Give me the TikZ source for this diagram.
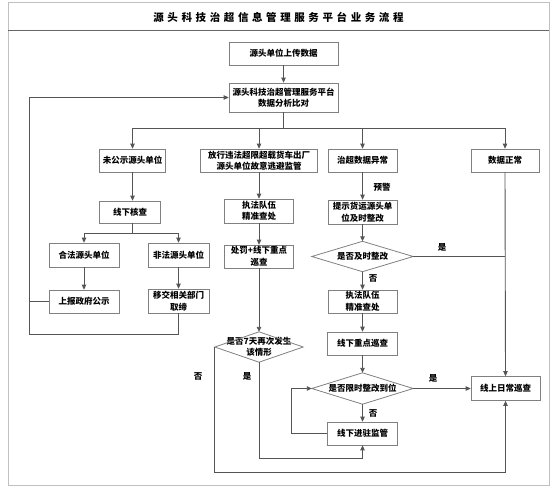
\documentclass[tikz,border=0pt]{standalone}
\usepackage{fontspec}
\setmainfont{Noto Sans CJK SC}
\usetikzlibrary{arrows.meta}
\definecolor{boxgray}{HTML}{808080}
\definecolor{linegray}{HTML}{555555}
\definecolor{framegray}{HTML}{C0C0C0}
\definecolor{sepgray}{HTML}{666666}
\newcommand{\tsp}{\hspace{3.6pt}}
\begin{document}
\begin{tikzpicture}[x=1pt,y=-1pt,
  box/.style={draw=boxgray, line width=0.8pt, inner sep=0pt, align=center,
    font=\fontsize{8.5pt}{11.5pt}\selectfont\bfseries},
  dia/.style={inner sep=0pt, align=center,
    font=\fontsize{8.5pt}{11.5pt}\selectfont\bfseries},
  dline/.style={draw=boxgray, line width=0.8pt},
  ln/.style={draw=linegray, line width=0.9pt},
  arr/.style={-{Triangle[length=5pt,width=4.6pt]}},
  lbl/.style={inner sep=0pt, font=\fontsize{8.5pt}{10pt}\selectfont\bfseries},
]
\useasboundingbox (0,0) rectangle (556,492);
% frame
\draw[framegray, line width=1pt] (8,3) rectangle (549,485);
\draw[sepgray, line width=0.9pt] (8,30) -- (549,30);
\node[inner sep=0pt, font=\fontsize{10.5pt}{12pt}\selectfont\bfseries] (title) at (278.5,17)
 {源\tsp 头\tsp 科\tsp 技\tsp 治\tsp 超\tsp 信\tsp 息\tsp 管\tsp 理\tsp 服\tsp 务\tsp 平\tsp 台\tsp 业\tsp 务\tsp 流\tsp 程};

% top
\node[box, minimum width=109pt, minimum height=23pt] (up) at (283.5,53.5) {源头单位上传数据};
\node[box, minimum width=109pt, minimum height=29pt] (plat) at (283.5,97.5) {源头科技治超管理服务平台\\数据分析比对};

% level 1
\node[box, minimum width=66pt, minimum height=23pt] (n1) at (132.5,160.5) {未公示源头单位};
\node[box, minimum width=117pt, minimum height=23pt] (n2) at (259,160.5) {放行违法超限超载货车出厂\\源头单位故意逃避监管};
\node[box, minimum width=69pt, minimum height=23pt] (n3) at (362.5,160.5) {治超数据异常};
\node[box, minimum width=68pt, minimum height=23pt] (n4) at (505,160.5) {数据正常};

% left column
\node[box, minimum width=61pt, minimum height=22pt] (hc) at (130,212) {线下核查};
\node[box, minimum width=70pt, minimum height=24pt] (hf) at (84,255) {合法源头单位};
\node[box, minimum width=61pt, minimum height=24pt] (ff) at (178.5,255) {非法源头单位};
\node[box, minimum width=70pt, minimum height=23pt] (gs) at (84,301.5) {上报政府公示};
\node[box, minimum width=61pt, minimum height=24pt] (yj) at (178.5,301) {移交相关部门\\取缔};

% middle column
\node[box, minimum width=69pt, minimum height=24pt] (zf1) at (259,211) {执法队伍\\精准查处};
\node[box, minimum width=69pt, minimum height=23pt] (cf) at (259,256.5) {处罚+线下重点\\巡查};
\node[dia, minimum width=88pt, minimum height=30pt] (d1) at (259,347) {是否7天再次发生\\该情形};
\draw[dline] (d1.west) -- (d1.north) -- (d1.east) -- (d1.south) -- cycle;

% right column
\node[box, minimum width=69pt, minimum height=24pt] (ts) at (362.5,212) {提示货运源头单\\位及时整改};
\node[dia, minimum width=101pt, minimum height=30pt] (d2) at (362.5,256.5) {是否及时整改};
\draw[dline] (d2.west) -- (d2.north) -- (d2.east) -- (d2.south) -- cycle;
\node[box, minimum width=69pt, minimum height=23pt] (zf2) at (362.5,301.5) {执法队伍\\精准查处};
\node[box, minimum width=70pt, minimum height=23pt] (xc) at (362.5,343.5) {线下重点巡查};
\node[dia, minimum width=101pt, minimum height=31pt] (d3) at (362.5,388.5) {是否限时整改到位};
\draw[dline] (d3.west) -- (d3.north) -- (d3.east) -- (d3.south) -- cycle;
\node[box, minimum width=70pt, minimum height=23pt] (jz) at (362.5,433.5) {线下进驻监管};
\node[box, minimum width=69pt, minimum height=24pt] (xs) at (505.5,388.5) {线上日常巡查};

% helper coordinates
\coordinate (bus) at (283.5,128);
\coordinate (bus2) at (132.5,233);
\coordinate (loopB) at (29,334);
\coordinate (bot1) at (0,472);
\coordinate (bot2) at (0,458);
\coordinate (lp) at (291,0);

% connectors top
\draw[ln,arr] (up) -- (plat);
\draw[ln] (plat.south) -- (bus);
\draw[ln] (n1.north |- bus) -- (n4.north |- bus);
\draw[ln,arr] (n1.north |- bus) -- (n1.north);
\draw[ln,arr] (n2.north |- bus) -- (n2.north);
\draw[ln,arr] (n3.north |- bus) -- (n3.north);
\draw[ln,arr] (n4.north |- bus) -- (n4.north);

% left
\draw[ln,arr] (n1.south) -- (n1.south |- hc.north);
\draw[ln] (n1.south |- hc.south) -- (bus2);
\draw[ln] (hf.north |- bus2) -- (ff.north |- bus2);
\draw[ln,arr] (hf.north |- bus2) -- (hf.north);
\draw[ln,arr] (ff.north |- bus2) -- (ff.north);
\draw[ln,arr] (hf) -- (gs);
\draw[ln,arr] (ff) -- (yj);
\draw[ln,arr] (yj.south) -- (yj.south |- loopB) -- (loopB) -- (loopB |- plat.west) -- (plat.west);
\draw[ln] (gs.west) -- (gs.west -| loopB);

% middle
\draw[ln,arr] (n2) -- (zf1);
\draw[ln,arr] (zf1) -- (cf);
\draw[ln,arr] (cf) -- (d1.north);
\draw[ln,arr] (d1.west) -- (d1.west |- bot1) -- (xs.south |- bot1) -- (xs.south);
\draw[ln,arr] (d1.south) -- (d1.south |- bot2) -- (jz.south |- bot2) -- (jz.south);

% right
\draw[ln,arr] (n3) -- (ts);
\draw[ln,arr] (ts) -- (d2.north);
\draw[ln] (d2.east) -- (d2.east -| n4.south);
\draw[ln,arr] (d2.south) -- (zf2);
\draw[ln,arr] (zf2) -- (xc);
\draw[ln,arr] (xc) -- (d3.north);
\draw[ln,arr] (d3.east) -- (d3.east -| xs.west);
\draw[ln,arr] (d3.south) -- (jz);
\draw[ln,arr] (jz.west) -- (jz.west -| lp) -- (lp |- d3.west) -- (d3.west);
\draw[ln,arr] (n4.south) -- (xs.north);

% labels
\node[lbl] (l1) at (382,187) {预警};
\node[lbl] (l2) at (442,247) {是};
\node[lbl] (l3) at (373,278) {否};
\node[lbl] (l4) at (433,378) {是};
\node[lbl] (l5) at (373,413) {否};
\node[lbl] (l6) at (198,376) {否};
\node[lbl] (l7) at (247,376) {是};
\end{tikzpicture}
\end{document}
